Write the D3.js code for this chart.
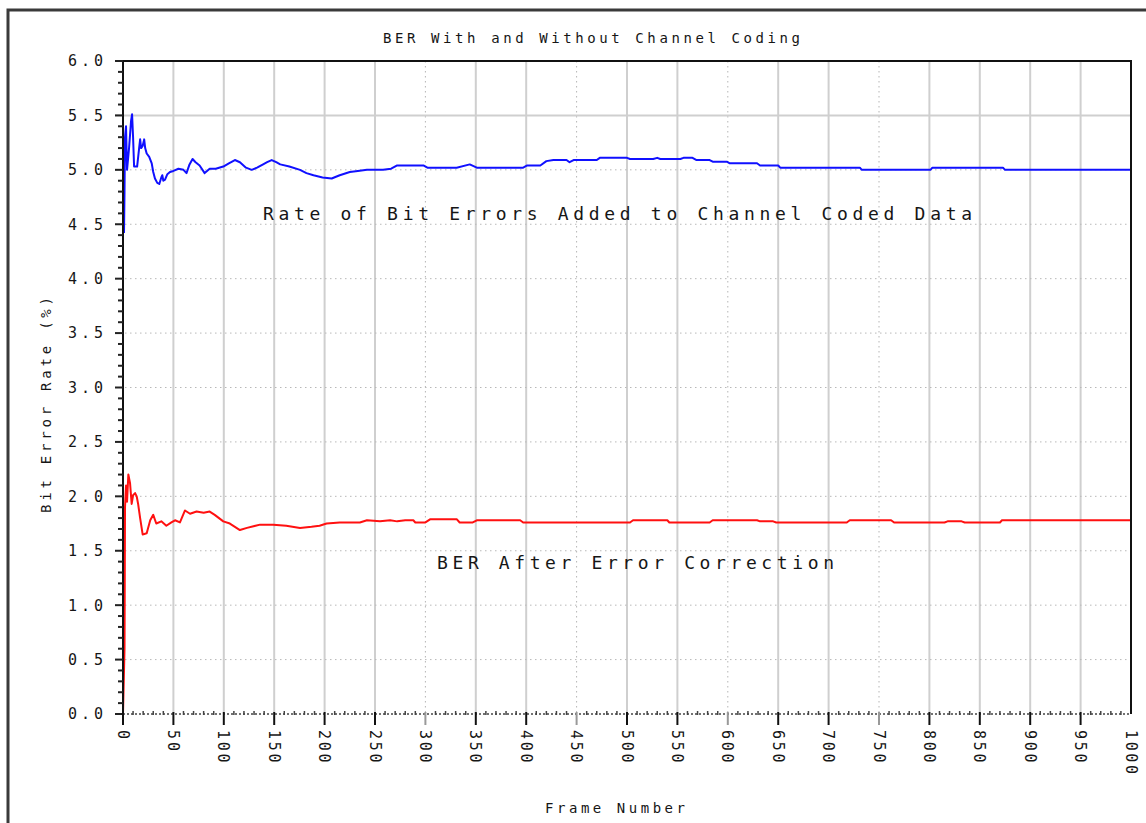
<!DOCTYPE html>
<html>
<head>
<meta charset="utf-8">
<script src="https://cdn.jsdelivr.net/npm/d3@7"></script>
<style>
  body { margin: 0; background: #fff; }
  svg { display: block; }
  text { font-family: "DejaVu Sans Mono", monospace; fill: #161616; }
</style>
</head>
<body>
<svg id="chart" width="1146" height="823"></svg>
<script>
// ---- chart data ----
const chartTitle = "BER With and Without Channel Coding";
const xAxisLabel = "Frame Number";
const yAxisLabel = "Bit Error Rate (%)";
const codedLabel = "Rate of Bit Errors Added to Channel Coded Data";
const correctedLabel = "BER After Error Correction";

const xTickValues = d3.range(0, 1001, 50);
const yTickValues = d3.range(0, 61, 5).map(v => v / 10);

// running BER of the channel-coded stream (%)
const codedFrames = [1, 1.5, 2, 3, 4, 6, 8, 9, 10, 11, 14, 16, 17, 18, 19.5, 21, 22, 23.5, 26, 28.5, 30, 31.7, 34, 36, 38, 39, 40, 41.7, 44, 46.6, 50,
  55, 60, 63, 66, 69, 72, 76, 81, 86, 92, 99.5, 105, 111, 116, 122, 127.7, 133, 139, 143, 147.5, 152, 156, 165, 175.6, 182, 189, 198, 207, 215, 225,
  233, 242, 258, 266, 272, 298, 302, 331, 344, 351, 397, 401, 414, 420, 427, 440, 443, 447, 470, 473, 500, 503, 526, 530, 533, 553, 556, 565, 569, 582,
  585, 599, 602, 629, 632, 650, 652, 731, 733, 801, 803, 873, 875, 1000];
const codedBER = [4.42, 4.8, 5.3, 5.4, 5.0, 5.2, 5.45, 5.51, 5.3, 5.03, 5.03, 5.2, 5.28, 5.2, 5.22, 5.28, 5.2, 5.15, 5.12, 5.06, 4.98, 4.92, 4.88, 4.87, 4.93, 4.95, 4.9, 4.91, 4.96, 4.98, 4.99,
  5.01, 5.0, 4.97, 5.05, 5.1, 5.07, 5.04, 4.97, 5.01, 5.01, 5.03, 5.06, 5.09, 5.07, 5.02, 5.0, 5.02, 5.05, 5.07, 5.09, 5.07, 5.05, 5.03, 5.0, 4.97, 4.95, 4.93, 4.92, 4.95, 4.98,
  4.99, 5.0, 5.0, 5.01, 5.04, 5.04, 5.02, 5.02, 5.05, 5.02, 5.02, 5.04, 5.04, 5.08, 5.09, 5.09, 5.07, 5.09, 5.09, 5.11, 5.11, 5.10, 5.10, 5.11, 5.10, 5.10, 5.11, 5.11, 5.09, 5.09,
  5.075, 5.075, 5.06, 5.06, 5.04, 5.04, 5.02, 5.02, 5.0, 5.0, 5.02, 5.02, 5.0, 5.0];

// running BER after decoding (%)
const correctedFrames = [0, 1.5, 2, 3, 4, 5.3, 7, 8.6, 10, 12, 13.6, 15, 17, 19.5, 23.5, 27, 30, 33, 38, 43, 48, 51.6, 56.5, 61.5, 66.5, 73, 80, 86, 91, 99.5, 106,
  116, 123, 136, 149, 162, 175.6, 187, 195, 202, 215, 235, 242, 255, 265, 272, 280, 288, 290, 300, 305, 331, 334, 347, 351, 394, 397, 503, 506, 540, 542,
  582, 585, 629, 632, 645, 648, 718, 721, 762, 765, 815, 818, 832, 835, 870, 872, 1000];
const correctedBER = [0, 0.6, 1.9, 2.1, 1.95, 2.2, 2.12, 1.93, 2.01, 2.03, 2.0, 1.93, 1.8, 1.65, 1.66, 1.78, 1.83, 1.75, 1.77, 1.73, 1.76, 1.78, 1.76, 1.87, 1.84, 1.86, 1.85, 1.86, 1.83, 1.77, 1.75,
  1.69, 1.71, 1.74, 1.74, 1.73, 1.71, 1.72, 1.73, 1.75, 1.76, 1.76, 1.78, 1.77, 1.78, 1.77, 1.78, 1.78, 1.76, 1.76, 1.79, 1.79, 1.76, 1.76, 1.78, 1.78, 1.76, 1.76, 1.78, 1.78, 1.76,
  1.76, 1.78, 1.78, 1.77, 1.77, 1.76, 1.76, 1.78, 1.78, 1.76, 1.76, 1.77, 1.77, 1.76, 1.76, 1.78, 1.78];

// ---- layout ----
const svg = d3.select("#chart");
const plot = { left: 123, right: 1131, top: 61, bottom: 714 };
const x = d3.scaleLinear().domain([0, 1000]).range([plot.left, plot.right]);
const y = d3.scaleLinear().domain([0, 6]).range([plot.bottom, plot.top]);

// grid lines that render dotted rather than solid
const dottedX = new Set([300, 450, 600, 750]);
const solidY = new Set([5.5]);

// outer frame
svg.append("rect")
  .attr("x", 8).attr("y", 10).attr("width", 1300).attr("height", 1000)
  .attr("fill", "none").attr("stroke", "#3a3a3a").attr("stroke-width", 3);

// grid
const grid = svg.append("g");
grid.selectAll("line.vx")
  .data(xTickValues.filter(v => v > 0 && v < 1000))
  .join("line")
  .attr("x1", d => x(d)).attr("x2", d => x(d))
  .attr("y1", plot.top).attr("y2", plot.bottom)
  .attr("stroke", d => dottedX.has(d) ? "#b5b5b5" : "#cfcfcf")
  .attr("stroke-width", d => dottedX.has(d) ? 1 : 2)
  .attr("stroke-dasharray", d => dottedX.has(d) ? "1.5,3.5" : null);
grid.selectAll("line.hy")
  .data(yTickValues.filter(v => v > 0 && v < 6))
  .join("line")
  .attr("x1", plot.left - 8).attr("x2", plot.right)
  .attr("y1", d => y(d)).attr("y2", d => y(d))
  .attr("stroke", d => solidY.has(d) ? "#cfcfcf" : "#b8b8b8")
  .attr("stroke-width", d => solidY.has(d) ? 2 : 1)
  .attr("stroke-dasharray", d => solidY.has(d) ? null : "1.5,3.5");

// series
svg.append("clipPath").attr("id", "plotClip")
  .append("rect").attr("x", plot.left).attr("y", plot.top)
  .attr("width", plot.right - plot.left).attr("height", plot.bottom - plot.top + 2);

const line = d3.line().x(d => x(d[0])).y(d => y(d[1]));
const series = [
  { frames: codedFrames, values: codedBER, color: "#1010ff" },
  { frames: correctedFrames, values: correctedBER, color: "#ff1010" }
];
svg.append("g").attr("clip-path", "url(#plotClip)")
  .selectAll("path")
  .data(series)
  .join("path")
  .attr("d", s => line(s.frames.map((f, i) => [f, s.values[i]])))
  .attr("fill", "none")
  .attr("stroke", s => s.color)
  .attr("stroke-width", 2)
  .attr("stroke-linejoin", "round");

// plot border (top and right)
svg.append("path")
  .attr("d", `M${plot.left},${plot.top}H${plot.right}V${plot.bottom}`)
  .attr("fill", "none").attr("stroke", "#111").attr("stroke-width", 2);

// y axis: major and minor ticks
const yAxisG = svg.append("g");
yAxisG.append("line")
  .attr("x1", plot.left).attr("x2", plot.left)
  .attr("y1", plot.top).attr("y2", plot.bottom + 1)
  .attr("stroke", "#111").attr("stroke-width", 2);
yAxisG.selectAll("line.minor")
  .data(d3.range(0, 61).map(v => v / 10))
  .join("line")
  .attr("x1", d => plot.left - ((Math.round(d * 10) % 5 === 0) ? 8 : 5))
  .attr("x2", plot.left)
  .attr("y1", d => y(d)).attr("y2", d => y(d))
  .attr("stroke", "#222").attr("stroke-width", 2);
yAxisG.selectAll("text")
  .data(yTickValues)
  .join("text")
  .attr("x", 103)
  .attr("y", d => y(d))
  .attr("dy", "0.36em")
  .attr("text-anchor", "end")
  .attr("font-size", 15)
  .attr("textLength", 35)
  .attr("lengthAdjust", "spacing")
  .text(d => d.toFixed(1));

// x axis: dotted base line, minor and major ticks
const xAxisG = svg.append("g");
xAxisG.append("line")
  .attr("x1", plot.left).attr("x2", plot.right)
  .attr("y1", plot.bottom).attr("y2", plot.bottom)
  .attr("stroke", "#444").attr("stroke-width", 1.5)
  .attr("stroke-dasharray", "2,2");
xAxisG.selectAll("line.minor")
  .data(d3.range(0, 1001, 10).filter(v => v % 50 !== 0))
  .join("line")
  .attr("x1", d => x(d)).attr("x2", d => x(d))
  .attr("y1", plot.bottom - 3).attr("y2", plot.bottom + 1)
  .attr("stroke", "#444").attr("stroke-width", 1.5);
xAxisG.selectAll("line.major")
  .data(xTickValues.filter(v => v < 1000))
  .join("line")
  .attr("x1", d => x(d)).attr("x2", d => x(d))
  .attr("y1", plot.bottom - 2).attr("y2", plot.bottom + 11)
  .attr("stroke", d => dottedX.has(d) ? "#999" : "#111")
  .attr("stroke-width", 2);
xAxisG.selectAll("text")
  .data(xTickValues)
  .join("text")
  .attr("transform", d => `translate(${x(d)},${plot.bottom + 16}) rotate(90)`)
  .attr("dy", "0.36em")
  .attr("text-anchor", "start")
  .attr("font-size", 15)
  .attr("textLength", d => String(d).length > 1 ? String(d).length * 11.5 - 2 : null)
  .attr("lengthAdjust", "spacing")
  .text(d => d);

// titles and annotations
svg.append("text")
  .attr("x", 383).attr("y", 43)
  .attr("font-size", 14)
  .attr("textLength", 417).attr("lengthAdjust", "spacing")
  .text(chartTitle);

svg.append("text")
  .attr("x", 545).attr("y", 813)
  .attr("font-size", 14)
  .attr("textLength", 140).attr("lengthAdjust", "spacing")
  .text(xAxisLabel);

svg.append("text")
  .attr("transform", "translate(51,513) rotate(-90)")
  .attr("font-size", 14)
  .attr("textLength", 216).attr("lengthAdjust", "spacing")
  .text(yAxisLabel);

svg.append("text")
  .attr("x", 263).attr("y", 220)
  .attr("font-size", 18)
  .attr("textLength", 709).attr("lengthAdjust", "spacing")
  .text(codedLabel);

svg.append("text")
  .attr("x", 437).attr("y", 569)
  .attr("font-size", 18)
  .attr("textLength", 397).attr("lengthAdjust", "spacing")
  .text(correctedLabel);
</script>
</body>
</html>
